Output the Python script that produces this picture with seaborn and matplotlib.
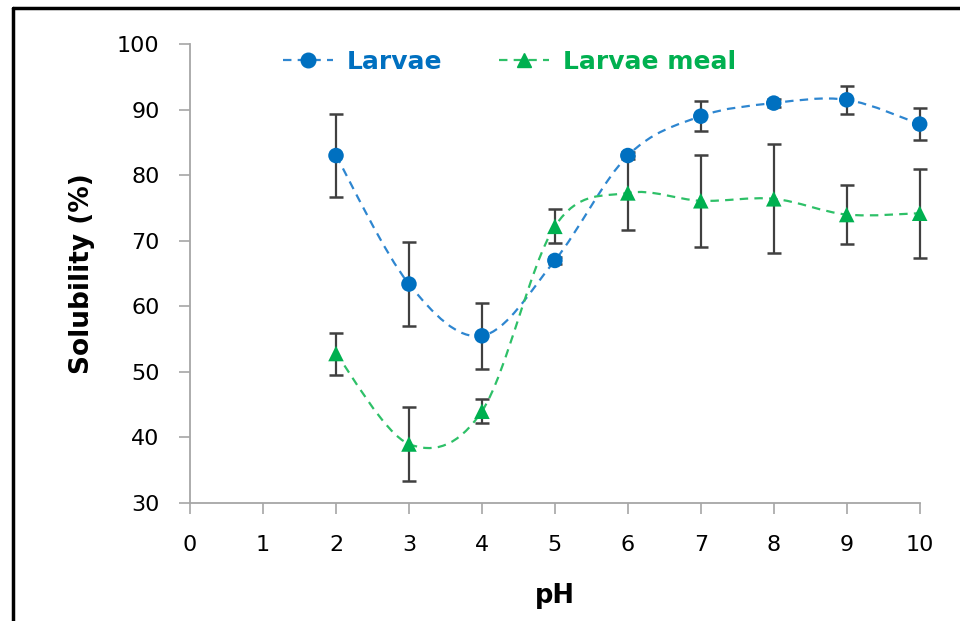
import matplotlib
matplotlib.use("Agg")
import matplotlib.pyplot as plt
import matplotlib.patches as patches
from matplotlib.path import Path
from matplotlib.lines import Line2D
import numpy as np
import pandas as pd
import seaborn as sns

sns.set_style("white")
plt.rcParams["font.family"] = ["DejaVu Sans"]

blue = "#0070C0"
blueLine = "#2E86D0"
green = "#00B050"
greenLine = "#2EC068"
barColor = "#404040"
axisGray = "#A6A6A6"

ph = [2, 3, 4, 5, 6, 7, 8, 9, 10]
larvae = [83.0, 63.4, 55.5, 67.0, 83.0, 89.0, 91.0, 91.5, 87.8]
larvae_err = [6.3, 6.4, 5.0, 0.5, 0.5, 2.3, 0.6, 2.1, 2.4]
meal = [52.8, 39.0, 44.0, 72.2, 77.3, 76.1, 76.4, 74.0, 74.2]
meal_err = [3.2, 5.7, 1.8, 2.6, 5.6, 7.0, 8.3, 4.5, 6.8]

df = pd.DataFrame({
    "pH": ph * 2,
    "Solubility": larvae + meal,
    "err": larvae_err + meal_err,
    "Sample": ["Larvae"] * len(ph) + ["Larvae meal"] * len(ph),
})


def smooth_path(xs, ys):
    # Bezier path like Excel's smoothed line (Catmull-Rom control points)
    pts = np.column_stack([xs, ys]).astype(float)
    ext = np.vstack([pts[0], pts, pts[-1]])
    verts = [pts[0]]
    codes = [Path.MOVETO]
    for i in range(len(pts) - 1):
        p0, p1, p2, p3 = ext[i], ext[i + 1], ext[i + 2], ext[i + 3]
        verts += [p1 + (p2 - p0) / 6, p2 - (p3 - p1) / 6, p2]
        codes += [Path.CURVE4] * 3
    return Path(verts, codes)


dash = (0, (3.8, 2.8))

fig = plt.figure(figsize=(9.6, 6.21), dpi=100)
ax = fig.add_axes([0.198, 0.19, 0.76, 0.739])

for name, lc in [("Larvae", blueLine), ("Larvae meal", greenLine)]:
    sub = df[df.Sample == name]
    ax.add_patch(patches.PathPatch(smooth_path(sub.pH, sub.Solubility), fill=False,
                                   edgecolor=lc, lw=1.6, linestyle=dash, zorder=2,
                                   clip_on=False))
    ax.errorbar(sub.pH, sub.Solubility, yerr=sub.err, fmt="none", ecolor=barColor,
                elinewidth=1.6, capsize=4.8, capthick=1.8, zorder=3, clip_on=False)

sns.scatterplot(data=df, x="pH", y="Solubility", hue="Sample", style="Sample",
                markers={"Larvae": "o", "Larvae meal": "^"},
                palette={"Larvae": blue, "Larvae meal": green},
                s=125, linewidth=0, legend=False, ax=ax, zorder=4, clip_on=False)

ax.set_xlim(0, 10)
ax.set_ylim(30, 100)
ax.set_xticks(range(0, 11))
ax.set_yticks(range(30, 101, 10))
ax.tick_params(axis="both", direction="out", length=8, width=1.2, color=axisGray,
               labelsize=16, labelcolor="black", bottom=True, left=True)
ax.tick_params(axis="y", pad=14)
ax.tick_params(axis="x", pad=15)
for side in ["top", "right"]:
    ax.spines[side].set_visible(False)
for side in ["left", "bottom"]:
    ax.spines[side].set_color(axisGray)
    ax.spines[side].set_linewidth(1.3)
ax.grid(False)

ax.set_xlabel("pH", fontsize=18.5, fontweight="bold", labelpad=20, color="black")
ax.set_ylabel("Solubility (%)", fontsize=19, fontweight="bold", labelpad=16, color="black")

handles = [
    Line2D([], [], color=blueLine, lw=1.6, linestyle=dash, marker="o",
           markersize=10.5, markerfacecolor=blue, markeredgecolor=blue),
    Line2D([], [], color=greenLine, lw=1.6, linestyle=dash, marker="^",
           markersize=10.5, markerfacecolor=green, markeredgecolor=green),
]
leg = ax.legend(handles, ["Larvae", "Larvae meal"], loc="center left",
                bbox_to_anchor=(0.127, 0.961), ncol=2, frameon=False, handlelength=2.0,
                columnspacing=2.3, handletextpad=0.55, borderpad=0, borderaxespad=0,
                prop={"size": 18, "weight": "bold"})
for txt, c in zip(leg.get_texts(), [blue, green]):
    txt.set_color(c)

# black frame of the figure (only top and left visible)
fig.add_artist(Line2D([12.5 / 960, 12.5 / 960], [0, 1 - 8 / 621], color="black", lw=2.5,
                      transform=fig.transFigure))
fig.add_artist(Line2D([12.5 / 960, 1], [1 - 8 / 621, 1 - 8 / 621], color="black", lw=2.5,
                      transform=fig.transFigure))

fig.savefig("out.png", dpi=100)
